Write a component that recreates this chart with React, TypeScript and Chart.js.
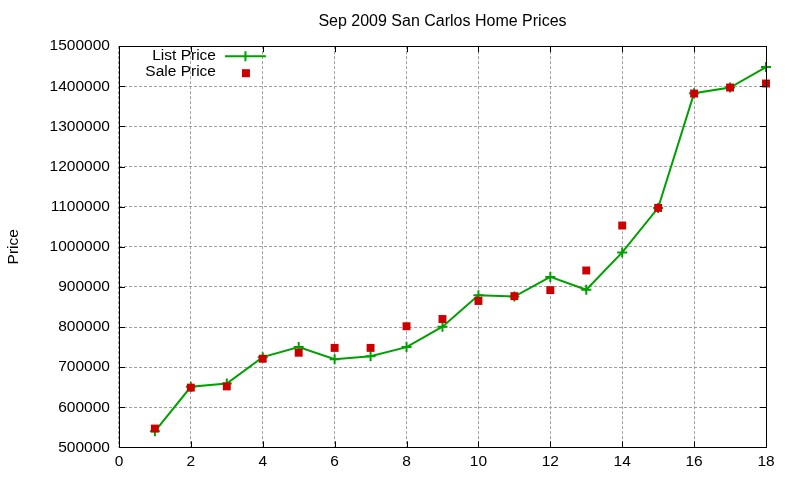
import { useEffect, useRef } from "react"
import { Chart, registerables } from "chart.js"
import type { Plugin } from "chart.js"

Chart.register(...registerables)

const houses = [1, 2, 3, 4, 5, 6, 7, 8, 9, 10, 11, 12, 13, 14, 15, 16, 17, 18]
const listPrices = [
  540000, 651000, 659000, 725000, 750000, 720000, 727000, 750000, 801000, 879000, 876000, 925000,
  893000, 986000, 1097000, 1383000, 1397000, 1448000,
]
const salePrices = [
  547000, 649000, 652000, 721000, 736000, 748000, 748000, 802000, 820000, 865000, 877000, 892000,
  941000, 1053000, 1097000, 1382000, 1397000, 1407000,
]
const xTicks = [0, 2, 4, 6, 8, 10, 12, 14, 16, 18]
const yTicks = [500000, 600000, 700000, 800000, 900000, 1000000, 1100000, 1200000, 1300000, 1400000, 1500000]

const GREEN = "#00a000"
const RED = "#cc0000"
const FONT = "Liberation Sans, Arial, sans-serif"

// gnuplot style frame: full border, inward ticks mirrored on all sides
const framePlugin: Plugin = {
  id: "frame",
  afterDraw(chart) {
    const { ctx, chartArea } = chart
    const { left, right, top, bottom } = chartArea
    const xs = chart.scales.x
    const ys = chart.scales.y
    ctx.save()
    ctx.strokeStyle = "#000"
    ctx.lineWidth = 1
    ctx.beginPath()
    xTicks.forEach((t) => {
      const px = Math.round(xs.getPixelForValue(t)) + 0.5
      ctx.moveTo(px, bottom)
      ctx.lineTo(px, bottom - 6)
      ctx.moveTo(px, top)
      ctx.lineTo(px, top + 6)
    })
    yTicks.forEach((t) => {
      const py = Math.round(ys.getPixelForValue(t)) + 0.5
      ctx.moveTo(left, py)
      ctx.lineTo(left + 6, py)
      ctx.moveTo(right, py)
      ctx.lineTo(right - 6, py)
    })
    ctx.stroke()
    ctx.strokeRect(Math.round(left) + 0.5, Math.round(top) + 0.5, Math.round(right - left), Math.round(bottom - top))
    ctx.restore()
  },
}

const keyPlugin: Plugin = {
  id: "key",
  afterDraw(chart) {
    const { ctx, chartArea } = chart
    const { left, top } = chartArea
    ctx.save()
    ctx.font = `15.5px ${FONT}`
    ctx.fillStyle = "#000"
    ctx.textAlign = "right"
    ctx.textBaseline = "middle"
    ctx.fillText("List Price", left + 97, top + 10)
    ctx.fillText("Sale Price", left + 97, top + 26)

    ctx.strokeStyle = GREEN
    ctx.lineWidth = 2
    ctx.beginPath()
    ctx.moveTo(left + 106, top + 10)
    ctx.lineTo(left + 147, top + 10)
    const cx = left + 126.5
    ctx.moveTo(cx, top + 5)
    ctx.lineTo(cx, top + 15)
    ctx.stroke()

    ctx.fillStyle = RED
    ctx.fillRect(left + 123, top + 23, 8, 8)
    ctx.restore()
  },
}

export default function App() {
  const canvasRef = useRef<HTMLCanvasElement>(null)

  useEffect(() => {
    if (!canvasRef.current) return
    const chart = new Chart(canvasRef.current, {
      type: "line",
      data: {
        datasets: [
          {
            label: "List Price",
            data: houses.map((h, i) => ({ x: h, y: listPrices[i] })),
            borderColor: GREEN,
            borderWidth: 2,
            pointStyle: "cross",
            pointRadius: 5,
            pointBorderWidth: 2,
            pointBorderColor: GREEN,
            tension: 0,
            clip: false,
            order: 2,
          },
          {
            label: "Sale Price",
            data: houses.map((h, i) => ({ x: h, y: salePrices[i] })),
            showLine: false,
            pointStyle: "rect",
            pointRadius: 5.6,
            pointBorderWidth: 0,
            pointBackgroundColor: RED,
            pointBorderColor: RED,
            clip: false,
            order: 1,
          },
        ],
      },
      options: {
        animation: false,
        responsive: true,
        maintainAspectRatio: false,
        layout: { padding: { left: 4, right: 34, top: 0, bottom: 4 } },
        plugins: {
          legend: { display: false },
          tooltip: { enabled: false },
          title: {
            display: true,
            fullSize: false,
            text: "Sep 2009 San Carlos Home Prices",
            color: "#000",
            font: { family: FONT, size: 16, weight: "normal" },
            padding: { top: 12, bottom: 15 },
          },
        },
        scales: {
          x: {
            type: "linear",
            min: 0,
            max: 18,
            afterBuildTicks: (scale) => {
              scale.ticks = xTicks.map((v) => ({ value: v }))
            },
            border: { display: false, dash: [3, 2] },
            grid: {
              color: "#a0a0a0",
              drawTicks: false,
            },
            ticks: {
              color: "#000",
              font: { family: FONT, size: 15.5 },
              padding: 5,
              maxRotation: 0,
            },
          },
          y: {
            type: "linear",
            min: 500000,
            max: 1500000,
            afterBuildTicks: (scale) => {
              scale.ticks = yTicks.map((v) => ({ value: v }))
            },
            border: { display: false, dash: [3, 2] },
            grid: {
              color: "#a0a0a0",
              drawTicks: false,
            },
            ticks: {
              color: "#000",
              font: { family: FONT, size: 15.5 },
              padding: 9,
              callback: (v) => String(v),
            },
            title: {
              display: true,
              text: "Price",
              color: "#000",
              font: { family: FONT, size: 15.5 },
              padding: { top: 0, bottom: 18 },
            },
          },
        },
      },
      plugins: [framePlugin, keyPlugin],
    })
    return () => chart.destroy()
  }, [])

  return (
    <div style={{ position: "absolute", left: 0, top: 0, width: 800, height: 480, background: "#fff" }}>
      <canvas ref={canvasRef} />
    </div>
  )
}
